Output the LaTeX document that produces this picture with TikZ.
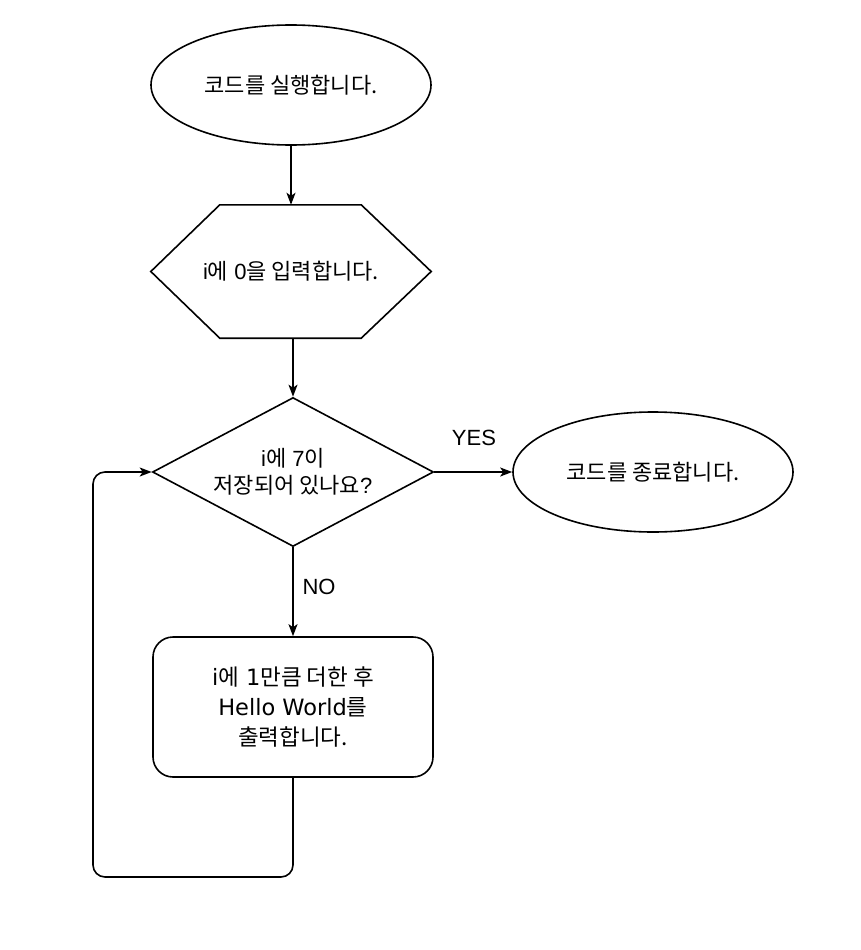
\documentclass[tikz,border=0pt]{standalone}
\usepackage{fontspec}
\setmainfont{Liberation Sans}
\newfontfamily\kr{Noto Sans CJK KR}
\newfontfamily\dv{DejaVu Sans}
\newcommand{\K}[1]{{\kr #1}}
\usetikzlibrary{shapes.geometric,arrows.meta,calc}
\begin{document}
\begin{tikzpicture}[x=1pt,y=1pt,
  every node/.style={font=\fontsize{22}{27}\selectfont, align=center},
  line/.style={line width=1.6pt, black},
  arr/.style={line, -{Stealth[length=12pt,width=9pt,inset=3pt]}},
  term/.style={ellipse, draw, line width=1.6pt, minimum width=280pt, minimum height=120pt, inner sep=0pt},
  box/.style={rectangle, draw, line width=1.6pt, rounded corners=20pt, minimum width=280pt, minimum height=140pt, inner sep=0pt, font=\dv\fontsize{22.5}{30}\selectfont},
  dec/.style={diamond, draw, line width=1.6pt, aspect=1.886, minimum width=281pt, minimum height=149pt, inner sep=0pt},
  hexbox/.style={rectangle, minimum width=280pt, minimum height=133pt, inner sep=0pt}
]
\useasboundingbox (0,0) rectangle (860,-950);

\node[term] (start) at (291,-85) {\K{코드를 실행합니다.}};
\node[hexbox] (hex) at (291,-271.5) {i\K{에} 0\K{을 입력합니다.}};
\draw[line, line join=miter] ($(hex.north west)+(69,0)$) -- ($(hex.north east)+(-70,0)$) -- (hex.east)
  -- ($(hex.south east)+(-70,0)$) -- ($(hex.south west)+(69,0)$) -- (hex.west) -- cycle;
\node[dec] (dec) at (293,-472) {i\K{에} 7\K{이}\\\K{저장되어 있나요}?};
\node[term] (endn) at (653,-472) {\K{코드를 종료합니다.}};
\node[box] (proc) at (293,-707) {i\K{에} 1\K{만큼 더한 후}\\Hello World\K{를}\\\K{출력합니다.}};

\coordinate (lb) at (93,-877);
\coordinate (lp) at (93,-472);

\draw[arr] (start.south) -- (start.south |- hex.north);
\draw[arr] (hex.south -| dec.north) -- (dec.north);
\draw[arr] (dec.east) -- (endn.west);
\draw[arr] (dec.south) -- (proc.north);
\draw[arr, rounded corners=12pt] (proc.south) |- (lb) -- (lp) -- (dec.west);

\node (yes) at (474,-438) {YES};
\node (no) at (319,-587) {NO};
\end{tikzpicture}
\end{document}
